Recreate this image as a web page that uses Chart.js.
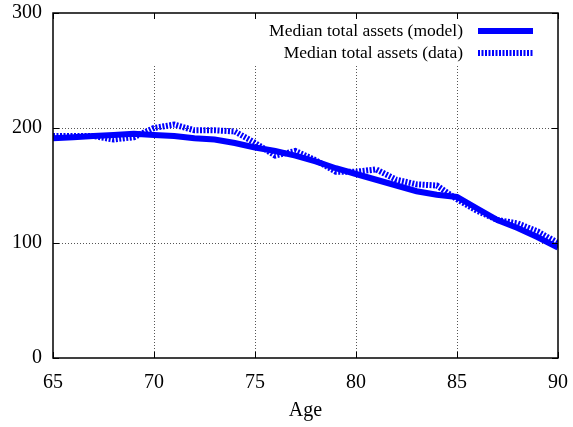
<!DOCTYPE html>
<html>
<head>
<meta charset="utf-8">
<script src="https://cdn.jsdelivr.net/npm/chart.js@4"></script>
<style>
  html, body { margin: 0; padding: 0; background: #fff; }
  #wrap { width: 573px; height: 427px; position: relative; }
</style>
</head>
<body>
<div id="wrap"><canvas id="graph"></canvas></div>
<script>
// ages on the x axis
const ages = [65, 66, 67, 68, 69, 70, 71, 72, 73, 74, 75, 76, 77, 78, 79, 80, 81, 82, 83, 84, 85, 86, 87, 88, 89, 90];
// median total assets, model
const modelAssets = [191, 192, 193, 194, 195, 194, 193, 191, 190, 187, 183, 180, 176, 171, 165, 160, 155, 150, 145, 142, 140, 130, 120, 113, 105, 96];
// median total assets, data
const dataAssets = [193, 193, 193, 190, 192, 200, 203, 198, 198, 197, 187, 176, 180, 172, 162, 162, 164, 155, 151, 150, 138, 128, 120, 117, 110, 100];
const xTicks = [65, 70, 75, 80, 85, 90];
const yTicks = [0, 100, 200, 300];

const serif = "'Liberation Serif', 'DejaVu Serif', serif";

const toPoints = (vals) => vals.map((v, i) => ({ x: ages[i], y: v }));

// gnuplot-like frame: box, inward ticks, dotted grid, key top right
const frame = {
    id: 'frame',
    beforeDatasetsDraw(chart) {
        const { ctx, chartArea: a, scales } = chart;
        ctx.save();
        ctx.strokeStyle = '#555';
        ctx.lineWidth = 1;
        ctx.setLineDash([1, 2]);
        const keyBottom = scales.y.getPixelForValue(254);
        xTicks.slice(1, -1).forEach(t => {
            const px = Math.round(scales.x.getPixelForValue(t)) + 0.5;
            ctx.beginPath();
            ctx.moveTo(px, a.bottom);
            ctx.lineTo(px, keyBottom);
            ctx.stroke();
        });
        yTicks.slice(1, -1).forEach(t => {
            const py = Math.round(scales.y.getPixelForValue(t)) + 0.5;
            ctx.beginPath();
            ctx.moveTo(a.left, py);
            ctx.lineTo(a.right, py);
            ctx.stroke();
        });
        ctx.restore();
    },
    afterDatasetsDraw(chart) {
        const { ctx, chartArea: a, scales } = chart;
        ctx.save();
        ctx.strokeStyle = '#000';
        ctx.lineWidth = 1.5;
        ctx.setLineDash([]);
        ctx.strokeRect(a.left, a.top, a.right - a.left, a.bottom - a.top);
        ctx.lineWidth = 1;
        const len = 6;
        ctx.beginPath();
        xTicks.forEach(t => {
            const px = Math.round(scales.x.getPixelForValue(t)) + 0.5;
            ctx.moveTo(px, a.bottom); ctx.lineTo(px, a.bottom - len);
            ctx.moveTo(px, a.top); ctx.lineTo(px, a.top + len);
        });
        yTicks.forEach(t => {
            const py = Math.round(scales.y.getPixelForValue(t)) + 0.5;
            ctx.moveTo(a.left, py); ctx.lineTo(a.left + len, py);
            ctx.moveTo(a.right, py); ctx.lineTo(a.right - len, py);
        });
        ctx.stroke();

        // key
        ctx.font = '17.5px ' + serif;
        ctx.fillStyle = '#000';
        ctx.textAlign = 'right';
        ctx.textBaseline = 'middle';
        chart.data.datasets.forEach((ds, i) => {
            const y = a.top + 18 + i * 22;
            ctx.fillText(ds.label, a.right - 95, y);
            ctx.strokeStyle = ds.borderColor;
            ctx.lineWidth = ds.borderWidth;
            ctx.lineCap = 'butt';
            ctx.setLineDash(ds.borderDash || []);
            ctx.beginPath();
            ctx.moveTo(a.right - 80, y);
            ctx.lineTo(a.right - 25, y);
            ctx.stroke();
        });
        ctx.restore();
    }
};

new Chart(document.getElementById('graph'), {
    type: 'line',
    data: {
        datasets: [
            {
                label: 'Median total assets (model)',
                data: toPoints(modelAssets),
                borderColor: '#0000ff',
                borderWidth: 6,
                pointRadius: 0,
                order: 2
            },
            {
                label: 'Median total assets (data)',
                data: toPoints(dataAssets),
                borderColor: '#0000ff',
                borderWidth: 6,
                borderDash: [2, 1.5],
                borderCapStyle: 'butt',
                pointRadius: 0,
                order: 1
            }
        ]
    },
    options: {
        responsive: true,
        maintainAspectRatio: false,
        animation: false,
        layout: { padding: { top: 13, right: 15, left: 0, bottom: 0 } },
        plugins: {
            legend: { display: false },
            tooltip: { enabled: false }
        },
        scales: {
            x: {
                type: 'linear',
                min: 65,
                max: 90,
                afterBuildTicks: (s) => { s.ticks = xTicks.map(v => ({ value: v })); },
                afterFit: (s) => { s.height = 69; s.paddingLeft = 0; s.paddingRight = 0; },
                grid: { display: false },
                border: { display: false },
                ticks: { color: '#000', padding: 5, font: { family: serif, size: 20 } },
                title: { display: true, text: 'Age', color: '#000', padding: { top: 4 }, font: { family: serif, size: 20 } }
            },
            y: {
                min: 0,
                max: 300,
                afterBuildTicks: (s) => { s.ticks = yTicks.map(v => ({ value: v })); },
                afterFit: (s) => { s.width = 53; s.paddingTop = 0; s.paddingBottom = 0; },
                grid: { display: false },
                border: { display: false },
                ticks: { color: '#000', padding: 3, font: { family: serif, size: 20 } }
            }
        }
    },
    plugins: [frame]
});
</script>
</body>
</html>
